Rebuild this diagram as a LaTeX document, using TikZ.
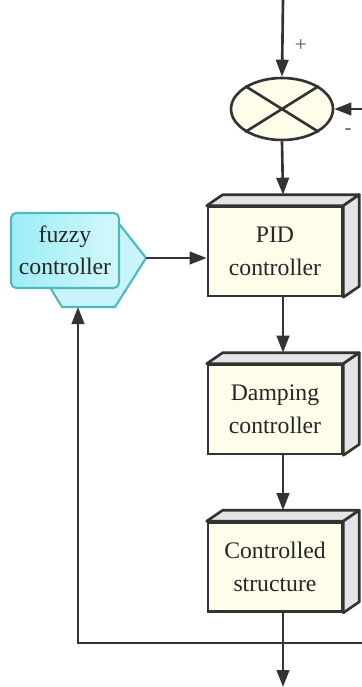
\documentclass[tikz,border=0pt]{standalone}
\usepackage{fontspec}
\setmainfont{Liberation Serif}
\usepackage{xcolor}
\usetikzlibrary{shapes,arrows,positioning,calc,arrows.meta}

\definecolor{edge}{HTML}{333333}
\definecolor{ivory}{HTML}{FDFDEA}
\definecolor{shade}{HTML}{E4E4E4}
\definecolor{teal}{HTML}{4DB9BC}
\definecolor{cyanl}{HTML}{9CEDF6}
\definecolor{cyanr}{HTML}{D4F8FB}

\begin{document}
\begin{tikzpicture}[x=0.02cm, y=-0.02cm,
    line width=1.5pt,
    flow/.style={draw=edge, -{Triangle[length=3.4mm, width=2.5mm]}},
    block/.style={draw=edge, fill=ivory, minimum width=2.68cm, minimum height=1.78cm,
        align=center, inner sep=0pt, font=\fontsize{13.5}{18.5}\selectfont, text=black!85},
    face/.style={draw=edge, fill=shade, line join=round},
    sumnode/.style={ellipse, draw=edge, fill=ivory, minimum width=2.04cm, minimum height=1.24cm, inner sep=0pt},
    sign/.style={text=black!65, font=\large}]
    \useasboundingbox (0,0) rectangle (362,687);

    % fuzzy controller: hexagon behind a rounded card
    \draw[teal, line width=1.2pt, fill=cyanl!55!white, line join=round] (146,258) -- (115,307) -- (62,307) -- (32,258) -- (62,216) -- (113,216) -- cycle;
    \node[draw=teal, line width=1.2pt, rounded corners=3pt, left color=cyanl, right color=cyanr, minimum width=2.16cm, minimum height=1.5cm,
        align=center, inner sep=0pt, font=\fontsize{13.5}{18.5}\selectfont, text=black!85] (fuzzy) at (65,250.5) {fuzzy\\controller};
    \coordinate (fuzzy tip) at (146,258);
    \coordinate (fuzzy in) at (78,307);

    % comparator
    \node[sumnode] (sum) at (282,109) {};
    \draw[edge] (sum.148) -- (sum.-32);
    \draw[edge] (sum.32) -- (sum.212);

    % controller chain
    \node[block] (pid) at (275,251.5) {PID\\controller};
    \node[block] (damp) at (275,409.5) {Damping\\controller};
    \node[block] (plant) at (275,567) {Controlled\\structure};
    \foreach \b in {pid,damp,plant} {
        \draw[face] (\b.north west) -- ++(16,-11) -- ($(\b.north east)+(16,-11)$) -- (\b.north east) -- cycle;
        \draw[face] (\b.north east) -- ($(\b.north east)+(16,-11)$) -- ($(\b.south east)+(16,-11)$) -- (\b.south east) -- cycle;
    }
    \coordinate (pid top) at ($(pid.north)+(8,-11)$);
    \coordinate (damp top) at ($(damp.north)+(8,-11)$);
    \coordinate (plant top) at ($(plant.north)+(8,-11)$);

    % signal paths
    \coordinate (ref) at (283,0);
    \coordinate (fb in) at (362,109);
    \coordinate (fb right) at (362,643);
    \coordinate (out) at (283,687);

    \draw[flow] (ref) -- (sum.north) node[pos=0.6, right=3pt, sign] {+};
    \draw[flow] (fb in) -- (sum.east) node[midway, below=7pt, sign] {-};
    \draw[flow] (sum.south) -- (pid top);
    \draw[flow] (fuzzy tip) -- (fuzzy tip -| pid.west);
    \draw[flow] (pid top |- pid.south) -- (damp top);
    \draw[flow] (damp top |- damp.south) -- (plant top);
    \draw[flow] (plant top |- plant.south) -- (out);
    \draw[flow] (fb right) -| (fuzzy in);
\end{tikzpicture}
\end{document}
